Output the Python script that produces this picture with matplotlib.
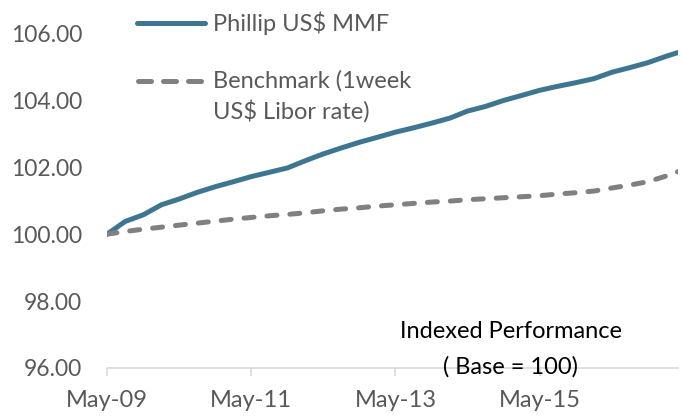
import matplotlib
matplotlib.use("Agg")
import matplotlib.pyplot as plt
import matplotlib.dates as mdates
from matplotlib.lines import Line2D
import pandas as pd

# quarterly readings, May-09 .. Apr-17 (index base = 100)
dates = pd.to_datetime([
    "2009-05-01", "2009-08-01", "2009-11-01", "2010-02-01",
    "2010-05-01", "2010-08-01", "2010-11-01", "2011-02-01",
    "2011-05-01", "2011-08-01", "2011-11-01", "2012-02-01",
    "2012-05-01", "2012-08-01", "2012-11-01", "2013-02-01",
    "2013-05-01", "2013-08-01", "2013-11-01", "2014-02-01",
    "2014-05-01", "2014-08-01", "2014-11-01", "2015-02-01",
    "2015-05-01", "2015-08-01", "2015-11-01", "2016-02-01",
    "2016-05-01", "2016-08-01", "2016-11-01", "2017-02-01",
    "2017-04-01",
])
phillip = [100.00, 100.38, 100.58, 100.88, 101.05, 101.25, 101.42, 101.57,
           101.72, 101.85, 101.98, 102.20, 102.40, 102.58, 102.75, 102.90,
           103.05, 103.18, 103.32, 103.47, 103.68, 103.82, 104.00, 104.15,
           104.30, 104.42, 104.53, 104.65, 104.84, 104.98, 105.13, 105.32,
           105.43]
benchmark = [100.00, 100.08, 100.15, 100.21, 100.27, 100.33, 100.39, 100.45,
             100.50, 100.55, 100.59, 100.64, 100.70, 100.75, 100.79, 100.84,
             100.88, 100.92, 100.96, 100.99, 101.03, 101.06, 101.09, 101.12,
             101.15, 101.20, 101.24, 101.29, 101.38, 101.47, 101.57, 101.74,
             101.87]
tick_dates = pd.to_datetime(["2009-05-01", "2011-05-01", "2013-05-01", "2015-05-01"])
y_ticks = [96, 98, 100, 102, 104, 106]

blue = "#3e7590"
grey = "#808080"
txt = "#595959"
axis_col = "#d9d9d9"
fs = 17
plt.rcParams["font.family"] = ["Lato", "DejaVu Sans"]

fig = plt.figure(figsize=(6.82, 4.16), dpi=100)
ax = fig.add_axes([107 / 682, 48 / 416, 571 / 682, 368 / 416])

ax.plot(dates, phillip, color=blue, lw=3.6, solid_capstyle="round", solid_joinstyle="round")
ax.plot(dates, benchmark, color=grey, lw=3.6, dashes=(2, 2.6), dash_capstyle="round")

ax.set_ylim(96, 107)
ax.set_yticks(y_ticks)
ax.yaxis.set_major_formatter(matplotlib.ticker.FormatStrFormatter("%.2f"))
ax.set_xlim(dates[0], dates[-1])
ax.set_xticks(tick_dates)
ax.xaxis.set_major_formatter(mdates.DateFormatter("%b-%y"))

for s in ["top", "right", "left"]:
    ax.spines[s].set_visible(False)
ax.spines["bottom"].set_color(axis_col)
ax.spines["bottom"].set_linewidth(1.2)
ax.tick_params(axis="y", length=0, pad=18, labelsize=16.5, labelcolor=txt)
ax.tick_params(axis="x", length=6, width=1.2, color=axis_col, pad=10,
               labelsize=fs, labelcolor=txt)

# legend drawn at top, handle aligned with first text line
fig.add_artist(Line2D([137 / 682, 205 / 682], [1 - 23 / 416] * 2, color=blue, lw=3.6,
                      solid_capstyle="round"))
fig.add_artist(Line2D([138 / 682, 205 / 682], [1 - 81 / 416] * 2, color=grey, lw=3.6,
                      dashes=(2.6, 2.4), dash_capstyle="round"))
fig.text(213 / 682, 1 - 23 / 416, "Phillip US$ MMF", color=txt, fontsize=fs, va="center")
fig.text(213 / 682, 1 - 81 / 416, "Benchmark (1week", color=txt, fontsize=fs, va="center")
fig.text(213 / 682, 1 - 111 / 416, "US$ Libor rate)", color=txt, fontsize=fs, va="center")

ax.text(0.7075, 0.098, "Indexed Performance", transform=ax.transAxes, ha="center",
        va="center", fontsize=fs, color="black")
ax.text(0.7075, 0.003, "( Base = 100)", transform=ax.transAxes, ha="center",
        va="center", fontsize=fs, color="black")

fig.savefig("out.png", dpi=100)
